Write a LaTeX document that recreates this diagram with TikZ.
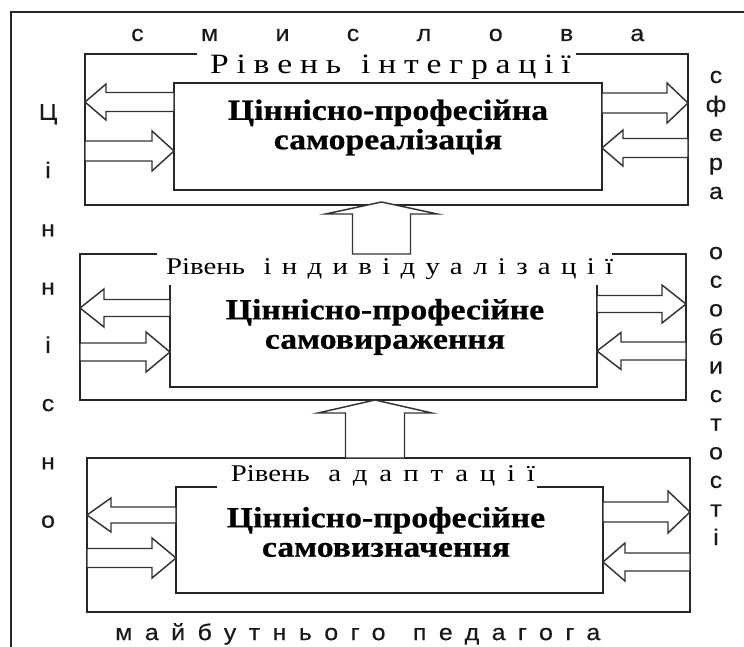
\documentclass[tikz,border=0pt]{standalone}
\usepackage{fontspec}
\setmainfont{Liberation Serif}[FakeStretch=1.2]
\newfontfamily\sansf{Liberation Sans}[FakeStretch=1.1,FakeBold=0.4]
\newfontfamily\sanstop{Liberation Sans}[FakeStretch=1.1,FakeBold=0.4,LetterSpace=253]
\newfontfamily\sansbot{Liberation Sans}[FakeStretch=1.1,FakeBold=0.4,LetterSpace=55]
\newfontfamily\tone{Liberation Serif}[FakeStretch=1.2,LetterSpace=28]
\newfontfamily\ttwo{Liberation Serif}[FakeStretch=1.2,LetterSpace=43]
\newfontfamily\tthree{Liberation Serif}[FakeStretch=1.2,LetterSpace=49]
\newfontfamily\tplain{Liberation Serif}[FakeStretch=1.2]
\newfontfamily\heavy{Liberation Serif}[FakeStretch=1.15,BoldFeatures={FakeBold=0.7}]
\newcommand\harr[6]{% tailx, tipx, y, shafthalf, headhalf, headlen
  \pgfmathsetmacro\hb{#2-(#6)*sign(#2-#1)}%
  \draw[blk] (#1,#3-#4) -- (\hb,#3-#4) -- (\hb,#3-#5) -- (#2,#3) -- (\hb,#3+#5) -- (\hb,#3+#4) -- (#1,#3+#4) -- cycle;}
\newcommand\varr[6]{% x, taily, tipy, shafthalf, headhalf, headlen
  \pgfmathsetmacro\hb{#3+#6}%
  \draw[blk] (#1-#4,#2) -- (#1-#4,\hb) -- (#1-#5,\hb) -- (#1,#3) -- (#1+#5,\hb) -- (#1+#4,\hb) -- (#1+#4,#2) -- cycle;}
\begin{document}
\begin{tikzpicture}[x=0.75pt,y=-0.75pt,
  ln/.style={draw=black!85,line width=1.3pt},
  blk/.style={draw=black!80,line width=1.1pt,fill=white,line join=miter},
  ttl/.style={fill=white,inner sep=0pt,text=black},
  inner/.style={align=center,inner sep=0pt,font=\fontsize{22}{22}\heavy\bfseries},
  vlet/.style={align=center,inner sep=0pt,text=black!90}]
\fill[white] (0,0) rectangle (744,647);
\useasboundingbox (0,0) rectangle (744,647);
% frame
\draw[ln] (11,647) -- (11,12) -- (744,12);
% boxes
\draw[ln] (85,54) rectangle (688,205);
\draw[ln] (174,83) rectangle (602,190);
\draw[ln] (80,254) rectangle (686,400);
\draw[ln] (170,281) rectangle (597,387);
\draw[ln] (87,458) rectangle (690,612);
\draw[ln] (176,487) rectangle (603,593);
% titles
\node[ttl,minimum width=284pt,minimum height=21pt] (t1) at (386.5,67)
  {\fontsize{21}{22}\tone Рівень\hspace{15pt}інтеграції\kern-0.28em};
\node[ttl,minimum width=341pt,minimum height=24pt] (t2) at (384.5,269)
  {\fontsize{18}{20}\tplain Рівень\hspace{14pt}\ttwo індивідуалізації\kern-0.43em};
\node[ttl,minimum width=240pt,minimum height=21pt] (t3) at (377,476)
  {\fontsize{18}{20}\tplain Рівень\hspace{14pt}\tthree адаптації\kern-0.49em\hspace{22pt}};
% inner texts
\node[inner] (c1) at (388,127.5) {Ціннісно-професійна\\самореалізація};
\node[inner] (c2) at (385,327) {Ціннісно-професійне\\самовираження};
\node[inner] (c3) at (386,532) {Ціннісно-професійне\\самовизначення};
% arrows box 1
\harr{174}{85}{102}{9.5}{18}{21}
\harr{85}{174}{151}{10}{20}{22}
\harr{602}{688}{103}{10}{20}{21}
\harr{688}{602}{148}{9.5}{18}{21}
% arrows box 2
\harr{170}{80}{308}{8.5}{19}{24}
\harr{80}{170}{352}{9}{20}{24}
\harr{597}{686}{304}{8.5}{19}{24}
\harr{686}{597}{351}{9}{18.5}{24}
% arrows box 3
\harr{176}{87}{515}{8}{17}{24}
\harr{87}{176}{558}{9.5}{20}{24}
\harr{603}{690}{512}{10}{21}{22}
\harr{690}{603}{562}{9}{19}{22}
% up arrows
\varr{381.5}{254}{202}{29}{56}{12}
\varr{375}{458}{400}{29.5}{57}{13}
% side texts
\node[inner sep=0pt,text=black!90,anchor=west] (top) at (131,35)
  {\fontsize{17}{19}\sanstop смислова};
\node[inner sep=0pt,text=black!90,anchor=west] (bot) at (115,634)
  {\fontsize{17}{19}\sansbot майбутнього\hspace{6pt} педагога};
\node[vlet,font=\fontsize{17}{43.7}\sansf] (lw) at (48,316)
  {Ц\\і\\н\\н\\і\\с\\н\\о};
\node[vlet,font=\fontsize{17}{21.75}\sansf] (rw1) at (716,135)
  {с\\ф\\е\\р\\а};
\node[vlet,font=\fontsize{17}{21.45}\sansf] (rw2) at (716,396)
  {о\\с\\о\\б\\и\\с\\т\\о\\с\\т\\і};
\end{tikzpicture}
\end{document}
